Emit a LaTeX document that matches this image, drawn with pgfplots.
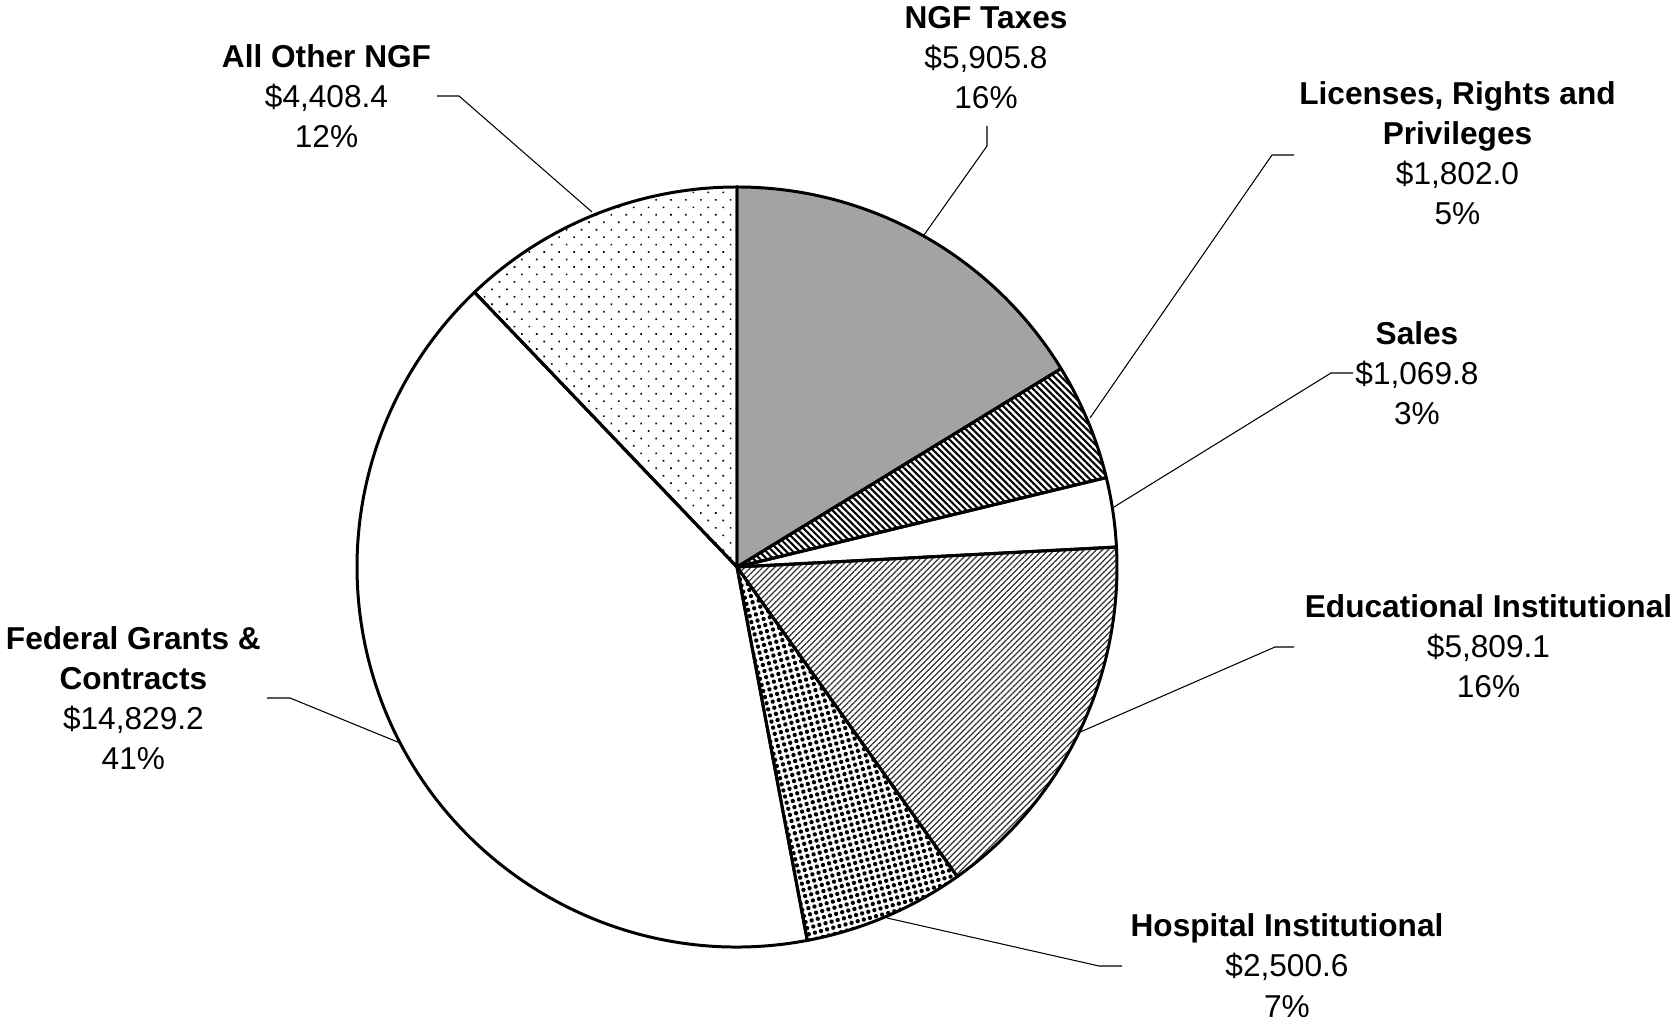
\documentclass[border=0pt]{standalone}
\usepackage{pgfplots}
\pgfplotsset{compat=1.18}
\usepackage{pgfplotstable}
\usetikzlibrary{patterns.meta}
\usepackage{fontspec}
\setmainfont{Liberation Sans}

\pgfplotstableread{
label value
Taxes 5905.8
Licenses 1802.0
Sales 1069.8
Educational 5809.1
Hospital 2500.6
Federal 14829.2
Other 4408.4
}\piedata

\newcommand\sector[3]{(axis cs:737,567) -- ++(#1:38mm) arc[start angle=#1, end angle=#2, radius=38mm] -- cycle}

\begin{document}
\begin{tikzpicture}
\pgfplotstablegetelem{0}{value}\of\piedata \let\vA\pgfplotsretval
\pgfplotstablegetelem{1}{value}\of\piedata \let\vB\pgfplotsretval
\pgfplotstablegetelem{2}{value}\of\piedata \let\vC\pgfplotsretval
\pgfplotstablegetelem{3}{value}\of\piedata \let\vD\pgfplotsretval
\pgfplotstablegetelem{4}{value}\of\piedata \let\vE\pgfplotsretval
\pgfplotstablegetelem{5}{value}\of\piedata \let\vF\pgfplotsretval
\pgfplotstablegetelem{6}{value}\of\piedata \let\vG\pgfplotsretval
\pgfmathsetmacro\tot{\vA/1000+\vB/1000+\vC/1000+\vD/1000+\vE/1000+\vF/1000+\vG/1000}
\pgfmathsetmacro\aA{90}
\pgfmathsetmacro\aB{\aA-360*((\vA/1000)/\tot)}
\pgfmathsetmacro\aC{\aB-360*((\vB/1000)/\tot)}
\pgfmathsetmacro\aD{\aC-360*((\vC/1000)/\tot)}
\pgfmathsetmacro\aE{\aD-360*((\vD/1000)/\tot)}
\pgfmathsetmacro\aF{\aE-360*((\vE/1000)/\tot)}
\pgfmathsetmacro\aG{\aF-360*((\vF/1000)/\tot)}
\pgfmathsetmacro\aH{\aG-360*((\vG/1000)/\tot)}
\useasboundingbox (0,0) rectangle (167.3mm,102mm);
\begin{axis}[at={(0,0)}, anchor=south west,
  width=167.3mm, height=102mm, scale only axis, hide axis,
  xmin=0, xmax=1673, ymin=0, ymax=1020, y dir=reverse, clip=false]
\addplot[draw=none] coordinates {(0,0)};
% sectors
\fill[black!36] \sector{\aA}{\aB}{};
\fill[pattern={Lines[angle=-45,distance=1.35pt,line width=0.6pt]}] \sector{\aB}{\aC}{};
\fill[white] \sector{\aC}{\aD}{};
\fill[pattern={Lines[angle=45,distance=1.2pt,line width=0.35pt]}, pattern color=black!80] \sector{\aD}{\aE}{};
\fill[pattern={Dots[distance=1.8pt,radius=0.62pt,angle=15]}] \sector{\aE}{\aF}{};
\fill[white] \sector{\aF}{\aG}{};
\fill[pattern={Dots[distance=3pt,radius=0.33pt,angle=45]}] \sector{\aG}{\aH}{};
% outlines
\tikzset{outl/.style={line width=0.85pt, line join=round}}
\draw[outl] \sector{\aA}{\aB}{};
\draw[outl] \sector{\aB}{\aC}{};
\draw[outl] \sector{\aC}{\aD}{};
\draw[outl] \sector{\aD}{\aE}{};
\draw[outl] \sector{\aE}{\aF}{};
\draw[outl] \sector{\aF}{\aG}{};
\draw[outl] \sector{\aG}{\aH}{};
% leader lines
\addplot[black, line width=0.3pt] coordinates {(987,126) (987,146) (924,235)};
\addplot[black, line width=0.3pt] coordinates {(437,96) (459,96) (592,212)};
\addplot[black, line width=0.3pt] coordinates {(1294,155) (1272,155) (1090,418)};
\addplot[black, line width=0.3pt] coordinates {(1353,373) (1331,373) (1114,507)};
\addplot[black, line width=0.3pt] coordinates {(1294,647) (1275,647) (1078,733)};
\addplot[black, line width=0.3pt] coordinates {(1122,966) (1099,966) (887,918)};
\addplot[black, line width=0.3pt] coordinates {(267,698) (290,698) (400,743)};
% labels
\tikzset{lab/.style={align=center, inner sep=0pt, font=\fontsize{9}{11.4}\selectfont}}
\node[lab] at (axis cs:986,57.6) {\textbf{NGF Taxes}\\\$5,905.8\\16\%};
\node[lab] at (axis cs:326.5,96) {\textbf{All Other NGF}\\\$4,408.4\\12\%};
\node[lab] at (axis cs:1457.5,153) {\textbf{Licenses, Rights and}\\\textbf{Privileges}\\\$1,802.0\\5\%};
\node[lab] at (axis cs:1417,373.5) {\textbf{Sales}\\\$1,069.8\\3\%};
\node[lab] at (axis cs:1488.5,646.6) {\textbf{Educational Institutional}\\\$5,809.1\\16\%};
\node[lab] at (axis cs:1287,965.6) {\textbf{Hospital Institutional}\\\$2,500.6\\7\%};
\node[lab] at (axis cs:133.4,698.5) {\textbf{Federal Grants \&}\\\textbf{Contracts}\\\$14,829.2\\41\%};
\end{axis}
\end{tikzpicture}
\end{document}
